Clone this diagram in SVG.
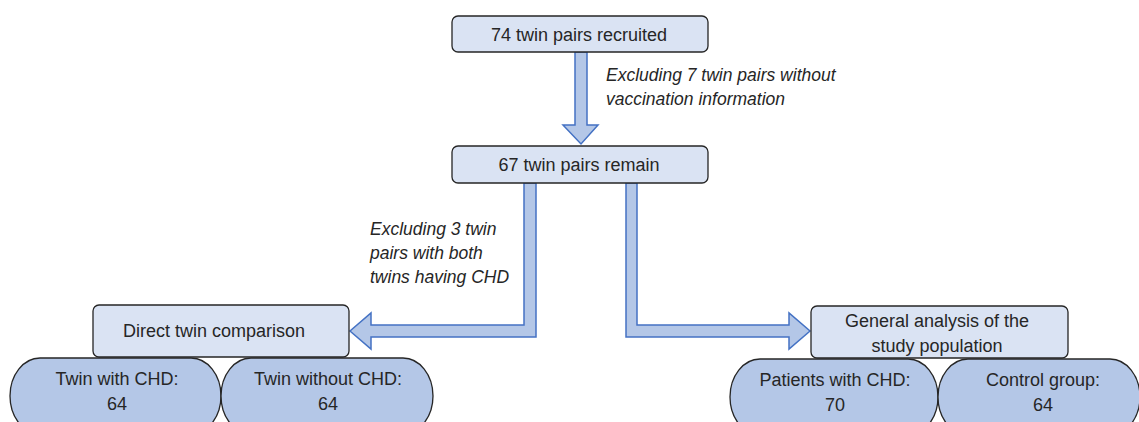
<svg xmlns="http://www.w3.org/2000/svg" width="1139" height="422" viewBox="0 0 1139 422">
<style>
.box{fill:#dae3f3;stroke:#262626;stroke-width:1.3}
.pill{fill:#b4c7e7;stroke:#262626;stroke-width:1.3}
.arr{fill:#b4c7e7;stroke:#4472c4;stroke-width:1.5;stroke-linejoin:miter}
text{font-family:"Liberation Sans",Arial,sans-serif;font-size:18px;fill:#262626}
.c{text-anchor:middle}
.i{font-style:italic;font-size:17.5px}
</style>
<rect width="1139" height="422" fill="#ffffff"/>
<g id="connectors">
<polygon class="arr" points="575,52 587,52 587,125 598,125 581,144 563,125 575,125"/>
<polygon class="arr" points="524,183 536,183 536,337 371,337 371,349 350,331 371,313 371,325 524,325"/>
<polygon class="arr" points="626,183 637,183 637,325 789,325 789,313 810,331 789,349 789,337 626,337"/>
</g>
<g id="label-exclude7">
<text class="i" x="606" y="81">Excluding 7 twin pairs without</text>
<text class="i" x="606" y="105">vaccination information</text>
</g>
<g id="label-exclude3">
<text class="i" x="370" y="235">Excluding 3 twin</text>
<text class="i" x="370" y="259">pairs with both</text>
<text class="i" x="370" y="283">twins having CHD</text>
</g>
<g id="node-recruited">
<rect class="box" x="452" y="16" width="256" height="36" rx="6"/>
<text class="c" x="579" y="41">74 twin pairs recruited</text>
</g>
<g id="node-remain">
<rect class="box" x="452" y="146" width="256" height="37" rx="6"/>
<text class="c" x="579" y="171">67 twin pairs remain</text>
</g>
<g id="node-direct">
<rect class="box" x="93" y="305" width="256" height="52" rx="6"/>
<text class="c" x="214" y="337">Direct twin comparison</text>
</g>
<g id="node-general">
<rect class="box" x="811" y="306" width="257" height="52" rx="6"/>
<text class="c" x="937" y="327">General analysis of the</text>
<text class="c" x="937" y="352">study population</text>
</g>
<g id="node-twin-chd">
<rect class="pill" x="10" y="358" width="211" height="76" rx="30" ry="38"/>
<text class="c" x="117" y="385">Twin with CHD:</text>
<text class="c" x="117" y="410">64</text>
</g>
<g id="node-twin-nochd">
<rect class="pill" x="221" y="358" width="212" height="76" rx="30" ry="38"/>
<text class="c" x="328" y="385">Twin without CHD:</text>
<text class="c" x="328" y="410">64</text>
</g>
<g id="node-patients">
<rect class="pill" x="730" y="359" width="208" height="76" rx="30" ry="38"/>
<text class="c" x="835" y="386">Patients with CHD:</text>
<text class="c" x="835" y="411">70</text>
</g>
<g id="node-control">
<rect class="pill" x="938" y="359" width="202" height="76" rx="30" ry="38"/>
<text class="c" x="1043" y="386">Control group:</text>
<text class="c" x="1043" y="411">64</text>
</g>
</svg>
